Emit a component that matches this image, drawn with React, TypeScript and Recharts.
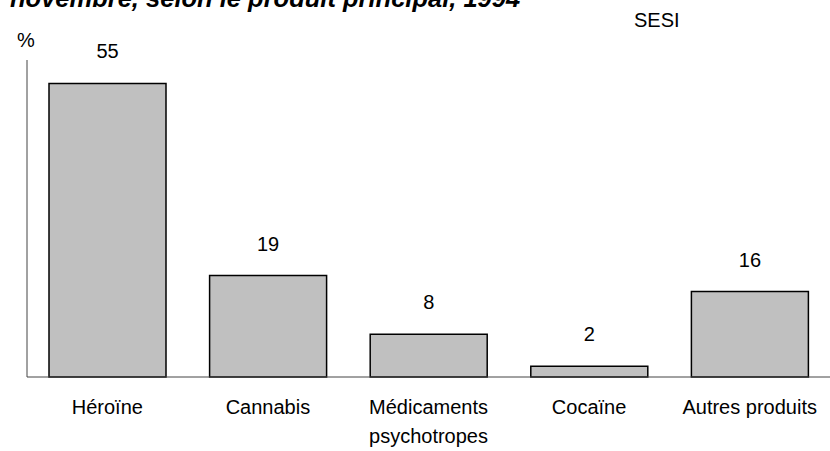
import { Bar, BarChart, LabelList, XAxis, YAxis } from "recharts";

const CATEGORIES = ["Héroïne", "Cannabis", "Médicaments\npsychotropes", "Cocaïne", "Autres produits"];
const VALUES = [55, 19, 8, 2, 16];

const TITLE = "novembre, selon le produit principal, 1994";
const SOURCE = "SESI";
const UNIT = "%";

const FONT = "'Liberation Sans', Arial, sans-serif";

const data = CATEGORIES.map((name, i) => ({ name, value: VALUES[i] }));

function CategoryTick(props: any) {
  const { x, y, payload } = props;
  const lines = String(payload.value).split("\n");
  return (
    <text x={x} y={y} textAnchor="middle" fontFamily={FONT} fontSize={20} fill="#000">
      {lines.map((line, i) => (
        <tspan key={i} x={x} dy={29}>
          {line}
        </tspan>
      ))}
    </text>
  );
}

export default function App() {
  return (
    <div style={{ position: "absolute", left: 0, top: 0, width: 830, height: 451, background: "#fff" }}>
      <BarChart
        width={830}
        height={451}
        data={data}
        margin={{ top: 60, right: 0, bottom: 0, left: 26 }}
      >
        <XAxis
          dataKey="name"
          interval={0}
          tickLine={false}
          axisLine={{ stroke: "#444", strokeWidth: 1 }}
          tick={<CategoryTick />}
          height={74}
        />
        <YAxis
          width={1}
          domain={[0, 59.4]}
          tick={false}
          tickLine={false}
          axisLine={{ stroke: "#444", strokeWidth: 1 }}
        />
        <Bar dataKey="value" fill="#C0C0C0" stroke="#000" strokeWidth={1.5} barSize={117} isAnimationActive={false}>
          <LabelList
            dataKey="value"
            position="top"
            offset={25}
            style={{ fontFamily: FONT, fontSize: 20, fill: "#000" }}
          />
        </Bar>
      </BarChart>
      <svg
        width={830}
        height={451}
        style={{ position: "absolute", left: 0, top: 0, pointerEvents: "none" }}
      >
        <text x={10} y={7} fontFamily={FONT} fontSize={25.5} fontWeight="bold" fontStyle="italic" fill="#000">
          {TITLE}
        </text>
        <text x={634} y={27} fontFamily={FONT} fontSize={20} fill="#000">
          {SOURCE}
        </text>
        <text x={17} y={47} fontFamily={FONT} fontSize={20} fill="#000">
          {UNIT}
        </text>
      </svg>
    </div>
  );
}
